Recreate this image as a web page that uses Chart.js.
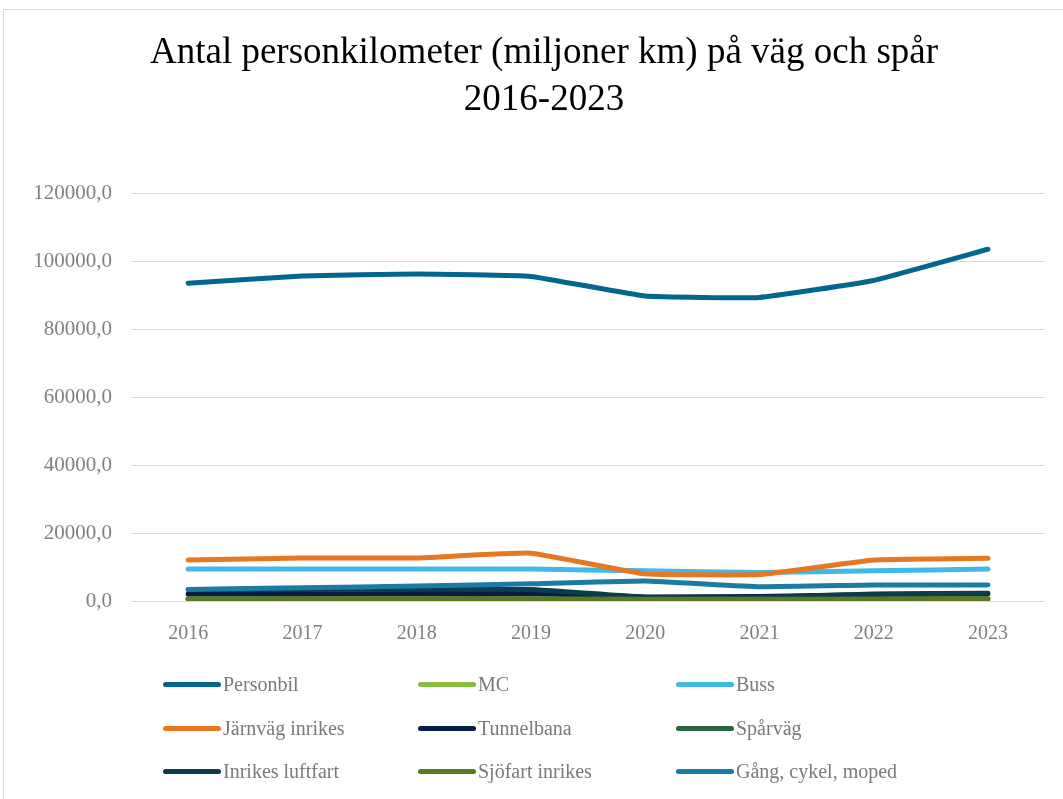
<!DOCTYPE html>
<html>
<head>
<meta charset="utf-8">
<script src="https://cdn.jsdelivr.net/npm/chart.js@4.4.1/dist/chart.umd.min.js"></script>
<style>
  html, body { margin: 0; padding: 0; background: #fff; overflow: hidden; }
  #frame { position: absolute; left: 3px; top: 9px; width: 1100px; height: 820px;
           border: 1px solid #d9d9d9; }
  #chart { position: absolute; left: 0; top: 0; }
  #legend { position: absolute; left: 0; top: 0; }
  .item { position: absolute; display: flex; align-items: center;
          font-family: "Liberation Serif", serif; font-size: 20px; color: #7a7a7a; white-space: nowrap; }
  .sym { width: 58px; height: 5px; border-radius: 3px; margin-right: 2px; }
</style>
</head>
<body>
<div id="frame">
  <canvas id="chart" width="1080" height="790"></canvas>
  <div id="legend"></div>
</div>
<script>
// data (miljoner personkilometer)
const years = ['2016', '2017', '2018', '2019', '2020', '2021', '2022', '2023'];

const personbil  = [93700, 95800, 96400, 95700, 89900, 89500, 94500, 103700];
const mc         = [600, 600, 600, 600, 600, 600, 600, 600];
const buss       = [9400, 9400, 9400, 9400, 8900, 8400, 8900, 9400];
const jarnvag    = [12100, 12700, 12700, 14100, 8000, 7800, 12100, 12600];
const tunnelbana = [2100, 2100, 2200, 2200, 1200, 1300, 1900, 2100];
const sparvag    = [500, 500, 500, 500, 400, 400, 500, 500];
const luftfart   = [3300, 3400, 3500, 3400, 1100, 1000, 2100, 2300];
const sjofart    = [700, 700, 700, 700, 500, 500, 600, 700];
const gang       = [3400, 3900, 4400, 5100, 5900, 4200, 4700, 4700];

const seriesNames = ['Personbil', 'MC', 'Buss', 'Järnväg inrikes', 'Tunnelbana', 'Spårväg',
                     'Inrikes luftfart', 'Sjöfart inrikes', 'Gång, cykel, moped'];
const seriesData = [personbil, mc, buss, jarnvag, tunnelbana, sparvag, luftfart, sjofart, gang];
const seriesColors = ['#03668e', '#8cbd3f', '#40b9e8', '#e87722', '#061d4a', '#2a6444',
                      '#0b3b4e', '#5b7a25', '#1a7ca3'];

const datasets = seriesNames.map((name, i) => ({
    label: name,
    data: seriesData[i],
    borderColor: seriesColors[i],
    backgroundColor: seriesColors[i],
    borderWidth: 5,
    pointRadius: 0,
    tension: 0.1,
    fill: false,
    borderCapStyle: 'round',
    borderJoinStyle: 'round',
    order: seriesNames.length - i
}));

const ctx = document.getElementById('chart').getContext('2d');
const chart = new Chart(ctx, {
    type: 'line',
    data: { labels: years, datasets: datasets },
    options: {
        responsive: false,
        animation: false,
        layout: { padding: { left: 0, right: 0, top: 0, bottom: 149 } },
        plugins: {
            legend: { display: false },
            tooltip: { enabled: false },
            title: {
                display: true,
                text: ['Antal personkilometer (miljoner km) på väg och spår', '2016-2023'],
                color: '#000',
                font: { family: 'Liberation Serif', size: 37, weight: 'normal', lineHeight: 1.27 },
                padding: { top: 20, bottom: 70 }
            }
        },
        scales: {
            x: {
                offset: true,
                grid: { display: false, drawTicks: false },
                border: { display: false },
                ticks: { color: '#808080', padding: 21,
                         font: { family: 'Liberation Serif', size: 20 } },
                afterFit: s => { s.height = 50; }
            },
            y: {
                min: 0,
                max: 120000,
                grid: { color: '#d9d9d9', lineWidth: 1, drawTicks: false },
                border: { display: false },
                ticks: {
                    stepSize: 20000,
                    color: '#808080',
                    padding: 19,
                    font: { family: 'Liberation Serif', size: 21 },
                    callback: v => v.toFixed(1).replace('.', ',')
                },
                afterFit: s => { s.width = 127; }
            },
            // empty right side so the title stays centred on the whole frame
            yRight: {
                type: 'linear',
                position: 'right',
                grid: { display: false, drawTicks: false },
                border: { display: false },
                ticks: { display: false },
                afterFit: s => { s.width = 39; }
            }
        }
    }
});

// legend, three columns like the original
const legend = document.getElementById('legend');
const colX = [159, 414, 672];
const rowY = [663, 707, 750];
seriesNames.forEach((name, i) => {
    const it = document.createElement('div');
    it.className = 'item';
    it.style.left = colX[i % 3] + 'px';
    it.style.top = rowY[Math.floor(i / 3)] + 'px';
    it.innerHTML = '<span class="sym" style="background:' + seriesColors[i] + '"></span>' + name;
    legend.appendChild(it);
});
</script>
</body>
</html>
